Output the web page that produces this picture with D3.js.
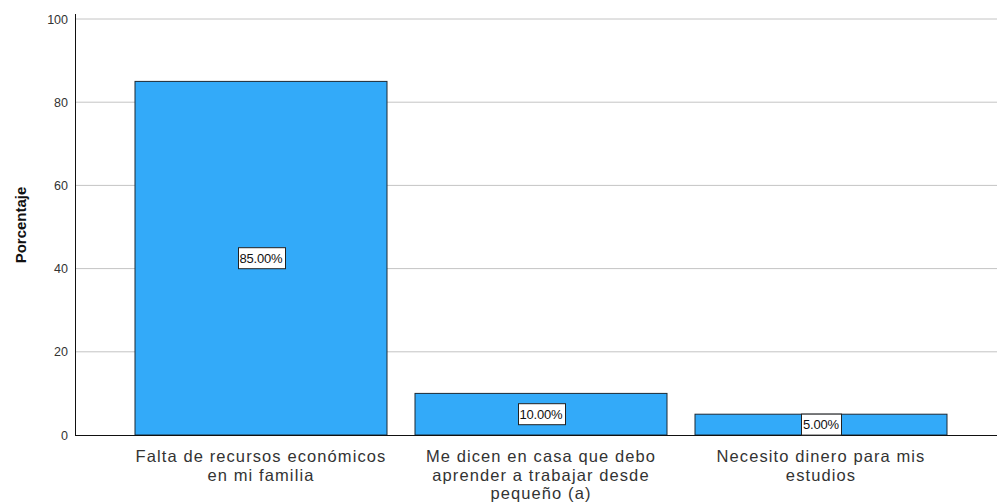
<!DOCTYPE html>
<html><head><meta charset="utf-8">
<script src="https://cdn.jsdelivr.net/npm/d3@7"></script>
<style>body{margin:0;background:#fff}svg{display:block}</style>
</head><body><svg id="c" width="997" height="503"></svg>
<script>
const categories = [
  ["Falta de recursos económicos", "en mi familia"],
  ["Me dicen en casa que debo", "aprender a trabajar desde", "pequeño (a)"],
  ["Necesito dinero para mis", "estudios"]
];
const values = [85, 10, 5];
const valueLabels = ["85.00%", "10.00%", "5.00%"];
const yTicks = [0, 20, 40, 60, 80, 100];
const yTitle = "Porcentaje";

const svg = d3.select("#c");
const x = d3.scaleBand().domain(d3.range(values.length)).range([121, 961]).paddingInner(0.1).paddingOuter(0.05);
const y = d3.scaleLinear().domain([0, 100]).range([435, 19]);
const font = "'Liberation Sans', Arial, sans-serif";

// gridlines
svg.append("g").selectAll("line").data(yTicks.filter(d => d > 0)).join("line")
  .attr("x1", 75).attr("x2", 997).attr("y1", d => y(d)).attr("y2", d => y(d))
  .attr("stroke", "#c4c4c4").attr("stroke-width", 1);

// bars
svg.append("g").selectAll("rect").data(values).join("rect")
  .attr("x", (d, i) => x(i)).attr("width", x.bandwidth())
  .attr("y", d => y(d)).attr("height", d => y(0) - y(d))
  .attr("fill", "#33aaf9").attr("stroke", "#1c2a35").attr("stroke-width", 1);

// axes
const yAxis = d3.axisLeft(y).tickValues(yTicks).tickSize(0).tickPadding(7);
const gy = svg.append("g").attr("transform", "translate(75,0)").call(yAxis);
gy.select(".domain").remove();
gy.selectAll("text").attr("font-family", font).attr("font-size", 12.5).attr("fill", "#333");
svg.append("line").attr("x1", 75.5).attr("x2", 75.5).attr("y1", 14).attr("y2", 435.5).attr("stroke", "#111");
svg.append("line").attr("x1", 75).attr("x2", 997).attr("y1", 435.5).attr("y2", 435.5).attr("stroke", "#111");

// category labels
const cg = svg.append("g").selectAll("text").data(categories).join("text")
  .attr("x", (d, i) => x(i) + x.bandwidth() / 2).attr("y", 462)
  .attr("text-anchor", "middle").attr("font-family", font).attr("font-size", 16.5)
  .attr("fill", "#333").attr("letter-spacing", 1.1);
cg.selectAll("tspan").data(d => d).join("tspan")
  .attr("x", function () { return d3.select(this.parentNode).attr("x"); })
  .attr("dy", (d, i) => i === 0 ? 0 : 18.5).text(d => d);

// value labels
const vg = svg.append("g").selectAll("g").data(values).join("g")
  .attr("transform", (d, i) => `translate(${x(i) + x.bandwidth() / 2},${(y(d) + y(0)) / 2})`);
vg.append("text").attr("text-anchor", "middle").attr("dy", "0.36em")
  .attr("font-family", font).attr("font-size", 13).attr("fill", "#111")
  .attr("letter-spacing", -0.2)
  .text((d, i) => valueLabels[i]);
vg.each(function () {
  const t = d3.select(this).select("text").node().getBBox();
  d3.select(this).insert("rect", "text")
    .attr("x", Math.round(t.x) - 1.5).attr("y", -10.5).attr("width", Math.round(t.width) + 3).attr("height", 21)
    .attr("fill", "#fff").attr("stroke", "#222").attr("stroke-width", 1);
});

// y title
svg.append("text").attr("transform", "translate(26,225) rotate(-90)")
  .attr("text-anchor", "middle").attr("font-family", font).attr("font-size", 15)
  .attr("font-weight", "bold").attr("fill", "#111").text(yTitle);
</script></body></html>
